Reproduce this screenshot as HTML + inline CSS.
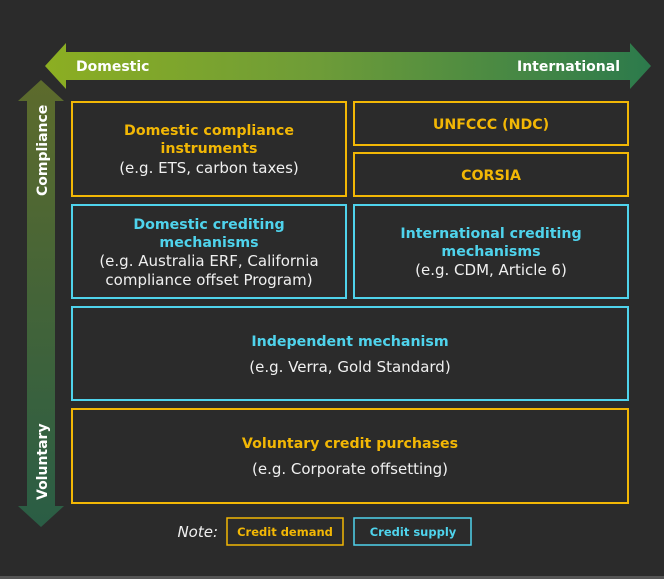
<!DOCTYPE html>
<html><head><style>
html,body{margin:0;padding:0;background:#2b2b2b;}
svg{display:block;font-family:"DejaVu Sans","Liberation Sans",sans-serif;}
.o{fill:#f2b705;font-weight:bold;font-size:14.2px;}
.c{fill:#4fd3ec;font-weight:bold;font-size:14.2px;}
.w{fill:#f0f0f0;font-size:15px;}
</style></head><body>
<svg width="664" height="579" viewBox="0 0 664 579">
<defs>
<linearGradient id="h" x1="0" x2="1" y1="0" y2="0"><stop offset="0" stop-color="#8cae22"/><stop offset="0.45" stop-color="#6e9c38"/><stop offset="1" stop-color="#2c7a4c"/></linearGradient>
<linearGradient id="v" x1="0" x2="0" y1="0" y2="1"><stop offset="0" stop-color="#5d6b2c"/><stop offset="1" stop-color="#2a5d45"/></linearGradient>
</defs>
<rect width="664" height="579" fill="#2b2b2b"/>
<rect y="576" width="664" height="3" fill="#555"/>
<polygon points="45,66 66,43 66,52 630,52 630,43 651,66 630,89 630,80 66,80 66,89" fill="url(#h)"/>
<text x="76" y="71" fill="#fff" font-weight="bold" font-size="14">Domestic</text>
<text x="620" y="71" fill="#fff" font-weight="bold" font-size="14" text-anchor="end">International</text>
<polygon points="41,80 64,101 55,101 55,506 64,506 41,527 18,506 27,506 27,101 18,101" fill="url(#v)"/>
<text transform="translate(47,196) rotate(-90)" fill="#fff" font-weight="bold" font-size="14">Compliance</text>
<text transform="translate(47,500) rotate(-90)" fill="#fff" font-weight="bold" font-size="14">Voluntary</text>
<g fill="none" stroke-width="2">
<rect x="72" y="102" width="274" height="94" stroke="#f2b705"/>
<rect x="354" y="102" width="274" height="43" stroke="#f2b705"/>
<rect x="354" y="153" width="274" height="43" stroke="#f2b705"/>
<rect x="72" y="205" width="274" height="93" stroke="#4fd3ec"/>
<rect x="354" y="205" width="274" height="93" stroke="#4fd3ec"/>
<rect x="72" y="307" width="556" height="93" stroke="#4fd3ec"/>
<rect x="72" y="409" width="556" height="94" stroke="#f2b705"/>
<rect x="227" y="518" width="116" height="27" stroke="#f2b705" stroke-width="1.5"/>
<rect x="354" y="518" width="117" height="27" stroke="#4fd3ec" stroke-width="1.5"/>
</g>
<g text-anchor="middle">
<text x="209" y="135" class="o">Domestic compliance</text>
<text x="209" y="153" class="o">instruments</text>
<text x="209" y="173" class="w">(e.g. ETS, carbon taxes)</text>
<text x="491" y="129" class="o">UNFCCC (NDC)</text>
<text x="491" y="180" class="o">CORSIA</text>
<text x="209" y="229" class="c">Domestic crediting</text>
<text x="209" y="247" class="c">mechanisms</text>
<text x="209" y="266" class="w">(e.g. Australia ERF, California</text>
<text x="209" y="285" class="w">compliance offset Program)</text>
<text x="491" y="238" class="c">International crediting</text>
<text x="491" y="256" class="c">mechanisms</text>
<text x="491" y="275" class="w">(e.g. CDM, Article 6)</text>
<text x="350" y="346" class="c">Independent mechanism</text>
<text x="350" y="372" class="w">(e.g. Verra, Gold Standard)</text>
<text x="350" y="448" class="o">Voluntary credit purchases</text>
<text x="350" y="474" class="w">(e.g. Corporate offsetting)</text>
<text x="285" y="536" fill="#f2b705" font-weight="bold" font-size="11.5">Credit demand</text>
<text x="413" y="536" fill="#4fd3ec" font-weight="bold" font-size="11.5">Credit supply</text>
</g>
<text x="218" y="537" fill="#f0f0f0" font-style="italic" font-size="15" text-anchor="end">Note:</text>
</svg>
</body></html>
